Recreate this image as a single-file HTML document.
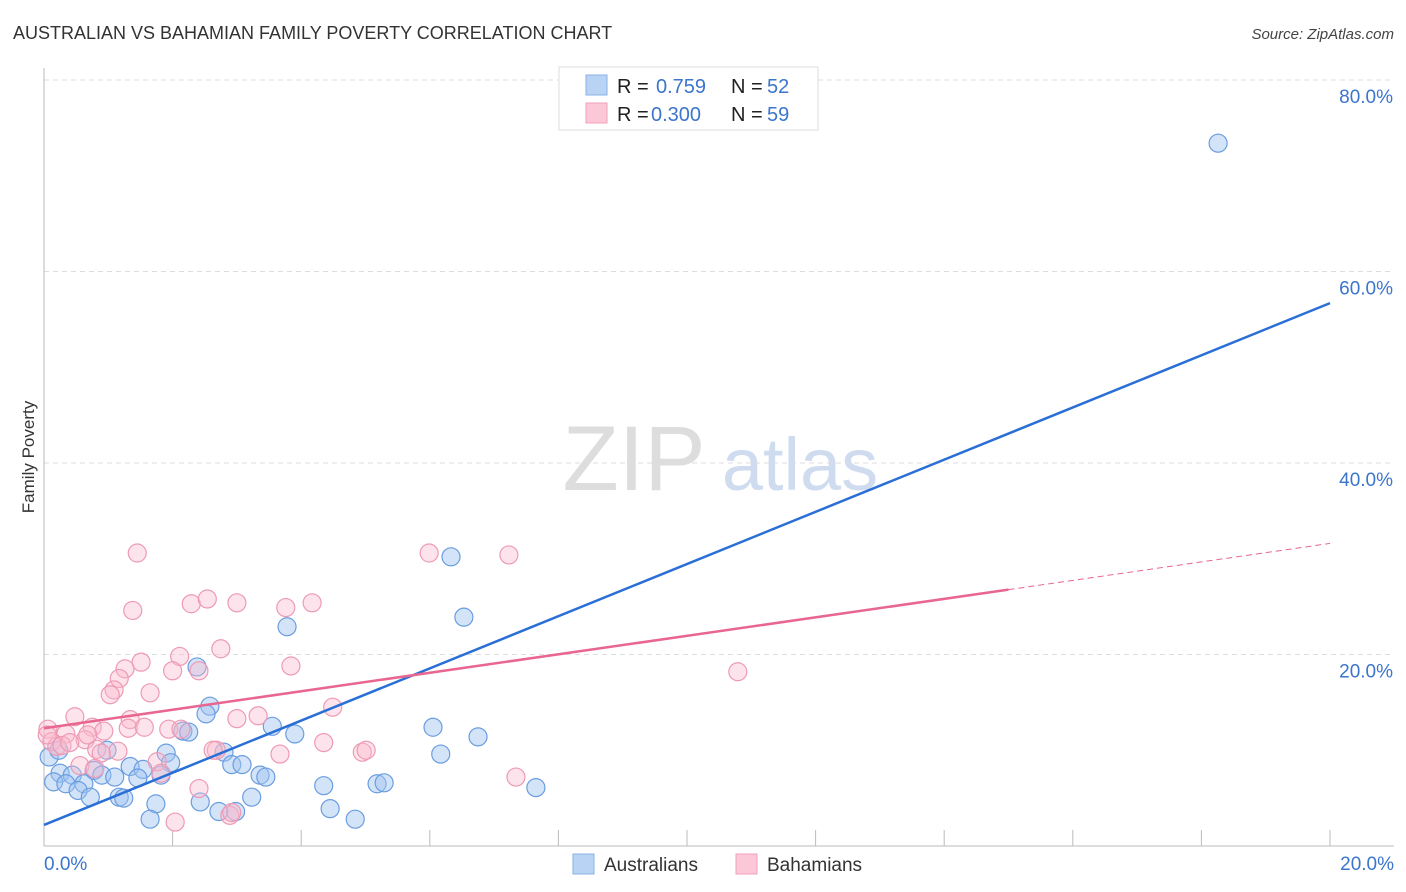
<!DOCTYPE html>
<html><head><meta charset="utf-8">
<style>
html,body{margin:0;padding:0;background:#fff;width:1406px;height:892px;overflow:hidden;font-family:"Liberation Sans",sans-serif;}
svg text{font-family:"Liberation Sans",sans-serif;}
</style></head>
<body>
<svg id="chart" width="1406" height="892" viewBox="0 0 1406 892" xmlns="http://www.w3.org/2000/svg">
<text x="13" y="39" font-size="18" fill="#333">AUSTRALIAN VS BAHAMIAN FAMILY POVERTY CORRELATION CHART</text>
<text x="1394" y="39" font-size="15" fill="#444" text-anchor="end" font-style="italic">Source: ZipAtlas.com</text>
<text transform="translate(34,457) rotate(-90)" font-size="17" fill="#333" text-anchor="middle">Family Poverty</text>
<g>
<text x="634" y="490" font-size="92" fill="#ddd" text-anchor="middle" font-family="Liberation Serif,serif">ZIP</text>
<text x="800" y="490" font-size="74" fill="#cfdcf0" text-anchor="middle">atlas</text>
</g>
<g id="grid"></g>
<g id="axes"></g>
<g id="pts"></g>
<g id="trend"></g>
<g>
<rect x="559" y="67" width="259" height="63" fill="#fff" stroke="#ddd"/>
<rect x="586" y="75" width="21" height="20" fill="#b9d3f5" stroke="#8ab1e6"/>
<rect x="586" y="103" width="21" height="20" fill="#fcc8d8" stroke="#f0a0b8"/>
<text x="617" y="93" font-size="20" fill="#222">R = </text><text x="656" y="93" font-size="20" fill="#3b75cc">0.759</text>
<text x="731" y="93" font-size="20" fill="#222">N = </text><text x="767" y="93" font-size="20" fill="#3b75cc">52</text>
<text x="617" y="121" font-size="20" fill="#222">R = </text><text x="651" y="121" font-size="20" fill="#3b75cc">0.300</text>
<text x="731" y="121" font-size="20" fill="#222">N = </text><text x="767" y="121" font-size="20" fill="#3b75cc">59</text>
</g>
<g>
<rect x="573" y="854" width="21" height="20" fill="#b9d3f5" stroke="#8ab1e6"/>
<text x="604" y="871" font-size="19" fill="#333">Australians</text>
<rect x="736" y="854" width="21" height="20" fill="#fcc8d8" stroke="#f0a0b8"/>
<text x="767" y="871" font-size="19" fill="#333">Bahamians</text>
</g>
</svg>
<script>
const xTicks=[0,20];
const yTicks=[20,40,60,80];
const ausX=[18.26,6.33,6.53,3.78,2.38,2.58,2.52,3.55,3.90,6.05,6.75,2.16,2.25,0.98,1.90,2.80,6.17,0.08,0.23,1.97,2.92,3.08,1.34,1.54,0.78,0.25,0.44,0.90,1.10,1.46,1.82,3.36,3.45,0.15,0.34,0.62,5.18,5.29,4.35,7.65,0.53,0.72,1.17,1.24,3.23,2.43,1.74,4.45,2.72,2.98,1.65,4.84];
const ausY=[73.4,30.2,23.9,22.9,18.7,14.6,13.8,12.5,11.7,12.4,11.4,12.0,11.9,10.0,9.7,9.8,9.6,9.3,10.0,8.7,8.5,8.5,8.3,8.0,7.9,7.6,7.4,7.4,7.2,7.1,7.4,7.4,7.2,6.7,6.5,6.5,6.5,6.6,6.3,6.1,5.8,5.1,5.1,5.0,5.1,4.6,4.4,3.9,3.6,3.6,2.8,2.8];
const bahX=[1.45,5.99,7.23,1.38,2.29,2.54,3.00,3.76,4.17,2.75,2.11,1.51,3.84,2.00,2.41,10.79,1.26,1.17,1.09,1.03,1.65,4.49,0.48,1.34,3.00,3.33,0.06,0.75,0.93,1.31,1.56,1.94,2.13,0.34,0.64,0.12,0.20,0.28,0.40,4.35,0.82,1.15,2.68,4.95,5.01,3.67,0.89,0.56,1.76,0.79,1.82,7.34,2.41,2.89,2.04,0.05,0.68,2.63,2.92];
const bahY=[30.6,30.6,30.4,24.6,25.3,25.8,25.4,24.9,25.4,20.6,19.8,19.2,18.8,18.3,18.3,18.2,18.5,17.5,16.3,15.8,16.0,14.5,13.5,13.2,13.3,13.6,12.2,12.4,12.0,12.3,12.4,12.2,12.2,11.7,11.1,10.9,10.4,10.5,10.8,10.8,10.1,9.9,10.0,9.8,10.0,9.6,9.7,8.4,8.8,8.1,7.6,7.2,6.0,3.2,2.5,11.6,11.6,10.0,3.5];
const ausTrend=[2.2,56.7];
const bahTrend=[12.3,31.6];
const bahSolidEnd=15.0;

const NS="http://www.w3.org/2000/svg";
const X0=44,X1=1330,Y0=846,PY=191.5/20;
function sx(v){return X0+(X1-X0)*v/20;}
function sy(v){return Y0-v*PY;}
function mk(tag,attrs,parent){const e=document.createElementNS(NS,tag);for(const k in attrs)e.setAttribute(k,attrs[k]);parent.appendChild(e);return e;}
const grid=document.getElementById('grid'),axes=document.getElementById('axes'),pts=document.getElementById('pts'),trend=document.getElementById('trend');
yTicks.forEach(t=>{
 const l=mk('line',{x1:X0,x2:1394,y1:sy(t),y2:sy(t),stroke:'#ddd','stroke-dasharray':'5,4'},grid);
 
 
 const tx=mk('text',{x:1393,y:sy(t)+23,'font-size':19,fill:'#3b75cc','text-anchor':'end'},axes);
 tx.textContent=t.toFixed(1)+'%';
 
 
});
mk('line',{x1:X0,x2:X0,y1:68,y2:Y0,stroke:'#bbb'},axes);
mk('line',{x1:X0,x2:1394,y1:Y0,y2:Y0,stroke:'#bbb'},axes);
for(let i=1;i<=10;i++){mk('line',{x1:sx(i*2),x2:sx(i*2),y1:Y0-16,y2:Y0,stroke:'#bbb'},axes);}
xTicks.forEach((t,i)=>{
 const tx=mk('text',{x:i==0?44:1394,y:870,'font-size':19,fill:'#3b75cc','text-anchor':i==0?'start':'end'},axes);
 tx.textContent=t.toFixed(1)+'%';
 
 
});
ausX.forEach((x,i)=>{
 const c=mk('circle',{cx:sx(x),cy:sy(ausY[i]),r:9,fill:'rgba(160,196,240,0.45)',stroke:'#6a9de0','stroke-width':1.2},pts);
 
 
});
bahX.forEach((x,i)=>{
 const c=mk('circle',{cx:sx(x),cy:sy(bahY[i]),r:9,fill:'rgba(250,185,205,0.4)',stroke:'#ee9ab5','stroke-width':1.2},pts);
 
 
});
const la=mk('line',{x1:sx(0),y1:sy(ausTrend[0]),x2:sx(20),y2:sy(ausTrend[1]),stroke:'#2a6fd6','stroke-width':2.5},trend);


const bAt=v=>bahTrend[0]+(bahTrend[1]-bahTrend[0])*v/20;
const lb=mk('line',{x1:sx(0),y1:sy(bahTrend[0]),x2:sx(bahSolidEnd),y2:sy(bAt(bahSolidEnd)),stroke:'#e8668f','stroke-width':2.5},trend);


const lbd=mk('line',{x1:sx(bahSolidEnd),y1:sy(bAt(bahSolidEnd)),x2:sx(20),y2:sy(bahTrend[1]),stroke:'#e8668f','stroke-width':1,'stroke-dasharray':'6,4'},trend);


</script>
</body></html>
